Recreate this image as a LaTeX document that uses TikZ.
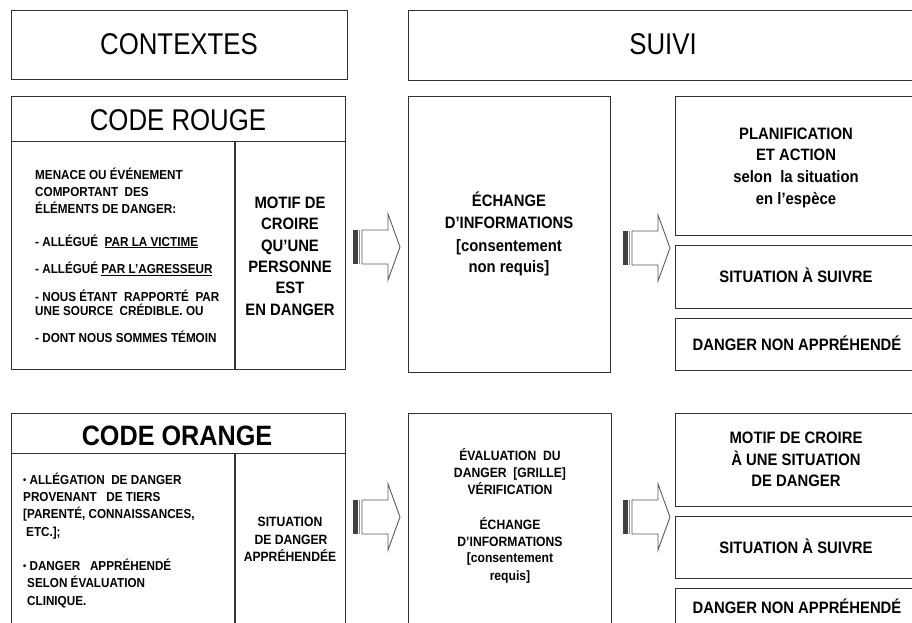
\documentclass[tikz,border=0pt]{standalone}
\usepackage{fontspec}
\setmainfont{Liberation Sans}[FakeStretch=0.9]
\newfontfamily\hdfont{Liberation Sans}[FakeStretch=0.86]
\newcommand{\smbul}{\raisebox{1pt}{\fontsize{10}{10}\selectfont •}}
\begin{document}
\begin{tikzpicture}[x=1pt,y=-1pt,
  box/.style={draw=black!80, line width=1.1pt, rectangle, inner sep=0pt, anchor=north west},
  hd/.style={inner sep=0pt, anchor=base, font=\hdfont\fontsize{30}{36}\selectfont},
  ttlb/.style={inner sep=0pt, anchor=base, font=\bfseries\fontsize{28}{34}\selectfont},
  lsm/.style={inner sep=0pt, anchor=base west, font=\bfseries\fontsize{13}{16}\selectfont},
  csm/.style={inner sep=0pt, anchor=base, font=\bfseries\fontsize{13.5}{16}\selectfont},
  cmd/.style={inner sep=0pt, anchor=base, font=\bfseries\fontsize{16.5}{20}\selectfont},
  barrow/.pic={
    \fill[black!75] (0,-17) rectangle (5,17);
    \draw[black!45, line width=0.8pt] (6.8,-17) -- (6.8,17);
    \draw[black!65, line width=0.9pt, fill=white] (9,-17) -- (35,-17) -- (35,-33) -- (47,0) -- (35,33) -- (35,17) -- (9,17) -- cycle;
  }]
\useasboundingbox (0,0) rectangle (912,623);
\clip (0,0) rectangle (912,623);

% headers
\node[box, minimum width=336pt, minimum height=69pt] (ctx) at (11,10) {};
\node[box, minimum width=520pt, minimum height=70pt] (suivi) at (408,10) {};
\node[hd] (ctxt) at (179,55) {CONTEXTES};
\node[hd] (suivit) at (663,55) {SUIVI};

% ---------- CODE ROUGE row ----------
\node[box, minimum width=334pt, minimum height=273pt] (rouge) at (11,96) {};
\draw[draw=black!80, line width=1.1pt] (11,141.5) -- (345,141.5);
\draw[draw=black!80, line width=1.1pt] (235,141.5) -- (235,369);
\node[hd] (rouget) at (178,130) {CODE ROUGE};

\node[lsm] (r1) at (35,179.3) {MENACE OU ÉVÉNEMENT};
\node[lsm] (r2) at (35,196.7) {COMPORTANT\ \ DES};
\node[lsm] (r3) at (35,213.7) {ÉLÉMENTS DE DANGER:};
\node[lsm] (r4) at (35,246) {- ALLÉGUÉ\ \ \underline{PAR LA VICTIME}};
\node[lsm] (r5) at (35,273.3) {- ALLÉGUÉ \underline{PAR L’AGRESSEUR}};
\node[lsm] (r6) at (35,301) {- NOUS ÉTANT\ \ RAPPORTÉ\ \ PAR};
\node[lsm] (r7) at (35,315) {UNE SOURCE\ \ CRÉDIBLE. OU};
\node[lsm] (r8) at (35,342.3) {- DONT NOUS SOMMES TÉMOIN};

\node[cmd] (m1) at (290,208.5) {MOTIF DE};
\node[cmd] (m2) at (290,229.8) {CROIRE};
\node[cmd] (m3) at (290,251.1) {QU’UNE};
\node[cmd] (m4) at (290,272.4) {PERSONNE};
\node[cmd] (m5) at (290,293.7) {EST};
\node[cmd] (m6) at (290,315) {EN DANGER};

\node[box, minimum width=202pt, minimum height=276pt] (ech) at (408,96) {};
\node[cmd] (e1) at (509,206.7) {ÉCHANGE};
\node[cmd] (e2) at (509,228.3) {D’INFORMATIONS};
\node[cmd] (e3) at (509,251) {[consentement};
\node[cmd] (e4) at (509,272.7) {non requis]};

\node[box, minimum width=260pt, minimum height=139pt] (plan) at (675,96) {};
\node[cmd] (p1) at (796,139.3) {PLANIFICATION};
\node[cmd] (p2) at (796,160.7) {ET ACTION};
\node[cmd] (p3) at (796,182.7) {selon\ \ la situation};
\node[cmd] (p4) at (796,204.3) {en l’espèce};

\node[box, minimum width=260pt, minimum height=63pt] (sit1) at (675,245) {};
\node[cmd] (s1) at (796,282.7) {SITUATION À SUIVRE};
\node[box, minimum width=260pt, minimum height=52pt] (dng1) at (675,318) {};
\node[cmd] (d1) at (797,350) {DANGER NON APPRÉHENDÉ};

\pic at (353,247) {barrow};
\pic at (623,248) {barrow};

% ---------- CODE ORANGE row ----------
\node[box, minimum width=334pt, minimum height=230pt] (orange) at (11,413) {};
\draw[draw=black!80, line width=1.1pt] (11,453.5) -- (345,453.5);
\draw[draw=black!80, line width=1.1pt] (235,453.5) -- (235,643);
\node[ttlb] (oranget) at (177,445) {CODE ORANGE};

\node[lsm] (o1) at (23,484) {\smbul\ ALLÉGATION\ \ DE DANGER};
\node[lsm] (o2) at (23,501) {PROVENANT\ \ \ DE TIERS};
\node[lsm] (o3) at (23,518.3) {[PARENTÉ, CONNAISSANCES,};
\node[lsm] (o4) at (26,536) {ETC.];};
\node[lsm] (o5) at (23,570) {\smbul\ DANGER\ \ \ APPRÉHENDÉ};
\node[lsm] (o6) at (27,587.7) {SELON ÉVALUATION};
\node[lsm] (o7) at (27,605) {CLINIQUE.};

\node[csm] (n1) at (290,526.7) {SITUATION};
\node[csm] (n2) at (291,544) {DE DANGER};
\node[csm] (n3) at (290,561.7) {APPRÉHENDÉE};

\node[box, minimum width=203pt, minimum height=230pt] (eval) at (408,413) {};
\node[csm] (v1) at (510,460) {ÉVALUATION\ \ DU};
\node[csm] (v2) at (510,477.3) {DANGER\ \ [GRILLE]};
\node[csm] (v3) at (510,494.3) {VÉRIFICATION};
\node[csm] (v4) at (510,529) {ÉCHANGE};
\node[csm] (v5) at (510,546) {D’INFORMATIONS};
\node[csm] (v6) at (510,562.7) {[consentement};
\node[csm] (v7) at (510,580) {requis]};

\node[box, minimum width=260pt, minimum height=93pt] (motif) at (675,413) {};
\node[cmd] (t1) at (796,443.3) {MOTIF DE CROIRE};
\node[cmd] (t2) at (796,465) {À UNE SITUATION};
\node[cmd] (t3) at (796,486.7) {DE DANGER};

\node[box, minimum width=260pt, minimum height=62pt] (sit2) at (675,516) {};
\node[cmd] (s2) at (796,553.3) {SITUATION À SUIVRE};
\node[box, minimum width=260pt, minimum height=60pt] (dng2) at (675,588) {};
\node[cmd] (d2) at (797,613) {DANGER NON APPRÉHENDÉ};

\pic at (353,517) {barrow};
\pic at (623,517) {barrow};
\end{tikzpicture}
\end{document}
